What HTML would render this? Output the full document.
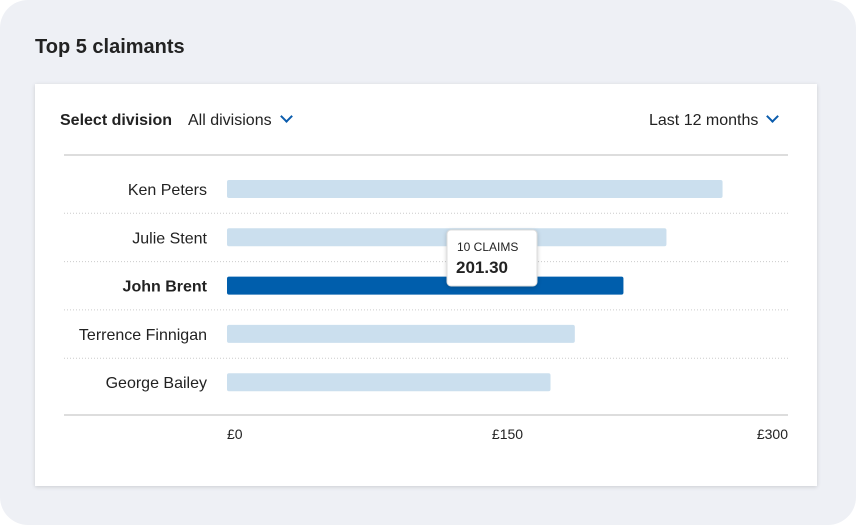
<!DOCTYPE html>
<html><head><meta charset="utf-8"><style>
body{margin:0;width:856px;height:525px;background:#fff;font-family:"Liberation Sans",sans-serif;overflow:hidden}
#outer{position:absolute;left:0;top:0;width:856px;height:525px;background:#eef0f5;border-radius:28px}
#title{position:absolute;left:35px;top:36px;font-size:20px;font-weight:bold;color:#222}
#card{position:absolute;left:35px;top:84px;width:782px;height:402px;background:#fff;box-shadow:0 1px 4px rgba(0,0,0,.15)}
.t{position:absolute;font-size:16px;color:#222;white-space:nowrap}
.chev{display:inline-block;width:7px;height:7px;border-right:2px solid #0b5cad;border-bottom:2px solid #0b5cad;transform:rotate(45deg);margin-left:10px;position:relative;top:-4px}
</style></head><body>
<div id="outer"></div>
<div id="title">Top 5 claimants</div>
<div id="card"></div>
<div class="t" style="left:60px;top:112px;font-weight:bold">Select division</div>
<div class="t" style="left:188px;top:112px">All divisions<span class="chev"></span></div>
<div class="t" style="left:649px;top:112px">Last 12 months<span class="chev"></span></div>
<svg id="chart" width="856" height="525" style="position:absolute;left:0;top:0"></svg>
<script>
const categories=["Ken Peters","Julie Stent","John Brent","Terrence Finnigan","George Bailey"];
const values=[265,235,212,186,173];
const ticks=[0,150,300];
const tickLabels=["£0","£150","£300"];
const highlight=2;
const tooltipClaims="10 CLAIMS";
const tooltipValue="201.30";
const svg=document.getElementById('chart');
const NS="http://www.w3.org/2000/svg";
const x0=227,x1=788;
const x=v=>x0+v*(x1-x0)/300;
const y=i=>189+i*48.3;
function mk(t,a){const e=document.createElementNS(NS,t);for(const k in a)e.setAttribute(k,a[k]);svg.appendChild(e);return e;}
let l=mk('line',{x1:64,x2:788,y1:155,y2:155,stroke:'#ddd','stroke-width':2});


categories.forEach((c,i)=>{
  if(i>0){const s=mk('line',{x1:64,x2:788,y1:y(i)-24,y2:y(i)-24,stroke:'#ccc','stroke-dasharray':'1 2'});
  
  }
  const r=mk('rect',{x:x(0),y:y(i)-9,width:x(values[i])-x(0),height:18,rx:2,fill:i===highlight?'#005eac':'#cbdfee'});
  
  
  const t=mk('text',{x:207,y:y(i)+6,'text-anchor':'end','font-size':16,fill:'#222','font-weight':i===highlight?'bold':'normal'});
  t.textContent=c;
  
  
});
const ax=mk('line',{x1:64,x2:788,y1:415,y2:415,stroke:'#ddd','stroke-width':2});


ticks.forEach((v,i)=>{
  const t=mk('text',{x:x(v),y:439,'text-anchor':i===0?'start':(i===ticks.length-1?'end':'middle'),'font-size':14,fill:'#222'});
  t.textContent=tickLabels[i];
  
  
});
const g=document.createElementNS(NS,'g');svg.appendChild(g);


const tb=document.createElementNS(NS,'rect');
[['x',447],['y',230],['width',90],['height',56],['rx',4],['fill','#fff'],['stroke','#ddd']].forEach(a=>tb.setAttribute(a[0],a[1]));
tb.style.filter='drop-shadow(0 1px 2px rgba(0,0,0,.2))';g.appendChild(tb);
const t1=document.createElementNS(NS,'text');t1.setAttribute('x',457);t1.setAttribute('y',251);t1.setAttribute('font-size',12);t1.setAttribute('fill','#222');t1.textContent=tooltipClaims;g.appendChild(t1);
const t2=document.createElementNS(NS,'text');t2.setAttribute('x',456);t2.setAttribute('y',273);t2.setAttribute('font-size',17);t2.setAttribute('font-weight','bold');t2.setAttribute('fill','#222');t2.textContent=tooltipValue;g.appendChild(t2);
</script>
</body></html>
